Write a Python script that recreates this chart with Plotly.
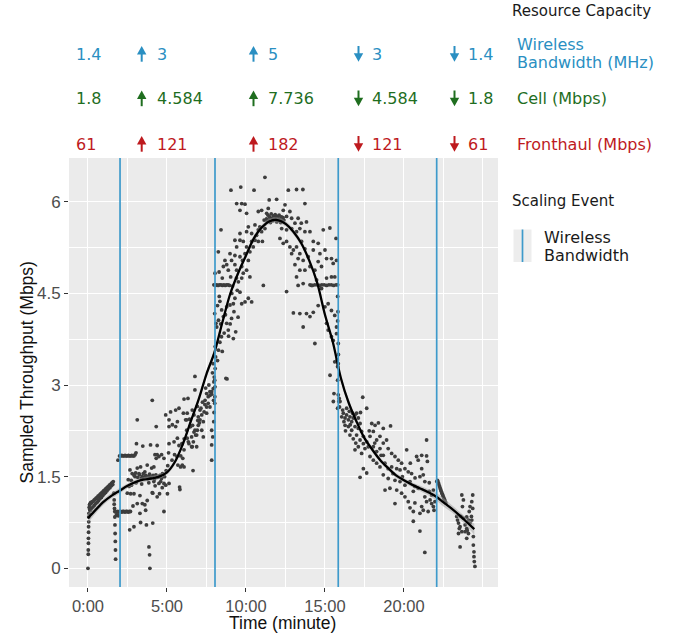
import plotly.graph_objects as go

# ------------------------------------------------------------------
# DATA
# time in minutes, throughput in Mbps
# ------------------------------------------------------------------
seg_start = [
    (0.00, 0.00), (0.02, 0.23), (0.02, 0.30), (0.03, 0.41), (0.03, 0.49), (0.04, 0.59),
    (0.04, 0.68), (0.05, 0.76), (0.05, 0.84), (0.06, 0.90), (0.08, 1.00), (0.12, 1.05),
    (0.18, 1.08), (0.10, 0.97), (0.15, 0.95),
    (0.10, 1.04), (0.16, 1.06), (0.22, 1.07), (0.28, 1.09), (0.34, 1.10), (0.40, 1.12),
    (0.46, 1.13), (0.52, 1.15), (0.58, 1.16), (0.64, 1.18), (0.70, 1.19), (0.76, 1.21),
    (0.82, 1.22), (0.88, 1.24), (0.94, 1.25), (1.00, 1.27), (1.06, 1.28), (1.12, 1.30),
    (1.18, 1.31), (1.24, 1.33), (1.30, 1.34), (1.36, 1.36), (1.42, 1.37), (1.48, 1.39),
    (1.54, 1.40), (1.60, 1.42),
    (0.13, 0.95), (0.22, 0.98), (0.31, 1.00), (0.40, 1.03), (0.49, 1.06), (0.58, 1.08),
    (0.67, 1.11), (0.76, 1.14), (0.85, 1.16), (0.94, 1.19), (1.03, 1.22), (1.12, 1.24),
    (1.21, 1.27), (1.30, 1.30), (1.39, 1.32), (1.48, 1.35), (1.57, 1.37),
    (1.64, 1.23), (1.66, 1.12), (1.66, 1.05), (1.68, 0.98), (1.70, 0.93), (1.70, 0.84),
    (1.71, 0.71), (1.72, 0.57), (1.73, 0.44), (1.74, 0.30), (1.75, 0.15),
]

seg_low_plateau = [
    (1.90, 1.77), (2.00, 1.84), (2.07, 1.84), (2.14, 1.85), (2.21, 1.84), (2.28, 1.84),
    (2.35, 1.85), (2.42, 1.84), (2.49, 1.84), (2.56, 1.85), (2.63, 1.84), (2.70, 1.84),
    (2.77, 1.85), (2.84, 1.84), (2.91, 1.84), (2.98, 1.86), (3.04, 1.89),
    (1.78, 0.92), (1.85, 0.93), (1.92, 0.92), (1.99, 0.93), (2.06, 0.93), (2.13, 0.92),
    (2.20, 0.93), (2.27, 0.93), (2.34, 0.92), (2.41, 0.93), (2.48, 0.93), (2.55, 0.92),
    (2.62, 0.93), (2.69, 0.93), (1.80, 0.87), (1.86, 0.87), (1.92, 0.86),
    (3.12, 2.43), (4.07, 2.75), (4.32, 2.32), (3.07, 2.04), (3.47, 2.00), (3.96, 2.02),
    (4.38, 2.01), (2.66, 1.61), (2.74, 1.44), (2.98, 1.50), (3.12, 1.64), (3.23, 1.55),
    (3.33, 1.66), (3.44, 1.50), (3.60, 1.58), (3.75, 1.69), (3.86, 1.50), (4.03, 1.64),
    (4.17, 1.66), (4.32, 1.80), (4.49, 1.83), (4.66, 1.86), (4.81, 1.80), (4.24, 1.86),
    (4.38, 1.86), (4.49, 1.39), (4.60, 1.42), (4.81, 1.39), (4.92, 1.36), (4.17, 1.42),
    (3.70, 1.50), (2.49, 1.23), (2.70, 1.22), (2.91, 1.22), (3.12, 1.06), (3.29, 1.19),
    (3.44, 1.06), (3.60, 1.04), (3.75, 1.11), (4.07, 1.24), (4.38, 1.17), (4.81, 0.93),
    (5.13, 1.39), (2.85, 1.02), (3.29, 0.90), (3.65, 0.95), (3.33, 0.75), (2.91, 0.68),
    (2.64, 0.63), (3.70, 0.71), (4.10, 0.74), (3.86, 0.35), (3.90, 0.22), (3.92, 0.00),
    (4.10, 1.23), (4.53, 1.22), (5.03, 1.22),
    (2.80, 1.55), (2.92, 1.52), (3.02, 1.56), (3.15, 1.49), (3.26, 1.53), (3.38, 1.47),
    (3.50, 1.55), (3.55, 1.48), (3.66, 1.52), (3.78, 1.47), (3.90, 1.54), (4.00, 1.49),
    (4.12, 1.52), (4.22, 1.46), (4.30, 1.53), (4.42, 1.49), (4.55, 1.52), (4.65, 1.47),
    (4.72, 1.55), (4.85, 1.50), (2.55, 1.45), (2.60, 1.34), (2.75, 1.36), (3.05, 1.40),
    (3.40, 1.38), (3.85, 1.40), (4.25, 1.35), (4.70, 1.32), (4.95, 1.60), (5.05, 1.68),
]

seg_rise = [
    (4.92, 2.51), (5.23, 2.56), (5.13, 2.32), (5.34, 2.35), (5.55, 2.32), (5.66, 2.13),
    (5.45, 2.07), (5.13, 2.04), (5.76, 2.01), (5.97, 2.04), (6.08, 1.94), (6.28, 2.13),
    (6.39, 2.04), (6.60, 1.99), (6.71, 2.23), (6.81, 2.18), (6.92, 2.26), (5.97, 1.69),
    (6.08, 1.66), (5.80, 1.33), (5.82, 1.29), (6.65, 1.60), (6.28, 2.54), (6.33, 2.78),
    (6.08, 2.77), (6.77, 3.14), (6.77, 2.92), (5.76, 2.62), (5.66, 2.40), (5.55, 2.59),
    (5.13, 2.43), (6.18, 2.43), (6.43, 2.44), (6.49, 2.32), (6.71, 2.51), (6.92, 2.65),
    (6.60, 2.59), (7.51, 2.86), (7.61, 2.81), (7.72, 2.83), (7.83, 2.89), (7.61, 2.70),
    (7.51, 2.64), (7.35, 2.56), (7.20, 2.51), (7.09, 2.43), (7.30, 2.40), (6.98, 2.34),
    (6.77, 2.26), (7.20, 2.26), (6.88, 2.18), (7.30, 2.15), (6.56, 2.15), (6.67, 2.07),
    (6.56, 1.99), (6.88, 1.99), (6.35, 2.07), (7.83, 2.26), (7.83, 2.02), (7.83, 1.77),
    (7.41, 2.75), (7.72, 2.64), (7.51, 2.54), (6.98, 2.48), (7.09, 2.59), (6.62, 2.34),
    (6.46, 2.32), (6.25, 2.26), (6.09, 2.12), (5.95, 2.04), (6.25, 2.43), (6.04, 2.54),
    (6.00, 1.80), (5.87, 1.84), (5.63, 1.83), (5.48, 1.86), (5.32, 1.77), (5.10, 1.89),
    (5.69, 1.69), (5.86, 1.66), (7.93, 2.94), (7.97, 3.05), (7.95, 2.75), (7.98, 2.55),
    (7.96, 2.40), (7.90, 2.15), (7.99, 3.13), (7.72, 2.89), (7.83, 2.85), (7.45, 2.95),
    (7.65, 3.00), (7.88, 3.20), (7.92, 3.35), (7.40, 2.68), (7.25, 2.72), (7.15, 2.62),
    (7.05, 2.38), (6.95, 2.42),
]

seg_peak_up = [
    (8.04, 4.83), (8.02, 4.17), (8.10, 4.01), (8.05, 3.63), (8.08, 3.46), (8.05, 3.27),
    (8.02, 3.08), (8.04, 2.97), (8.03, 2.81), (8.02, 2.70),
    (7.97, 4.64), (8.06, 4.63), (8.15, 4.64), (8.24, 4.63), (8.33, 4.64), (8.42, 4.64),
    (8.51, 4.63), (8.60, 4.64), (8.69, 4.63), (8.78, 4.64), (8.87, 4.64), (8.96, 4.63),
    (8.73, 3.11), (9.20, 3.76), (8.42, 5.54), (8.25, 5.18), (8.31, 4.45), (8.35, 4.37),
    (8.46, 4.23), (8.57, 4.12), (8.78, 4.01), (8.88, 3.90), (9.09, 4.09), (9.24, 4.20),
    (8.99, 4.31), (8.78, 4.28), (9.20, 4.33), (9.30, 4.42), (9.73, 4.33), (9.94, 4.36),
    (9.62, 4.52), (10.15, 4.42), (10.36, 4.36), (11.10, 4.63),
    (8.57, 4.94), (8.78, 4.97), (8.88, 4.88), (9.03, 4.77), (8.67, 5.04), (8.99, 5.15),
    (9.09, 5.04), (9.30, 4.97), (9.41, 4.88), (9.73, 4.94), (9.83, 4.83), (10.04, 4.88),
    (10.25, 4.77), (9.73, 4.75), (9.52, 4.69), (9.30, 5.12), (9.62, 5.10), (9.94, 5.15),
    (9.78, 5.04), (10.15, 5.04), (10.25, 5.18), (10.46, 5.26), (10.57, 5.37), (10.67, 5.45),
    (10.78, 5.54), (10.88, 5.59), (10.99, 5.51), (11.20, 5.56), (11.04, 5.35), (10.78, 5.35),
    (10.36, 5.35), (10.04, 5.26), (9.83, 5.35), (9.62, 5.37), (9.30, 5.37), (9.41, 5.26),
    (10.36, 5.48), (10.04, 5.51), (10.15, 5.59), (9.62, 5.48), (10.57, 5.62), (11.15, 5.70),
    (11.31, 5.81), (11.41, 5.89), (10.99, 5.86), (10.78, 5.84), (10.04, 5.81), (9.73, 5.97),
    (9.94, 5.96), (9.41, 5.97), (9.62, 5.86), (9.05, 6.19), (9.67, 6.24), (10.51, 6.19),
    (11.20, 6.40),
    (8.15, 3.95), (8.20, 3.40), (8.35, 3.70), (8.50, 3.55), (8.62, 3.85), (8.40, 4.00),
    (8.70, 4.15), (9.10, 4.50), (9.45, 4.55), (9.50, 4.11), (9.00, 4.00), (8.90, 3.80),
    (9.40, 4.75), (9.15, 4.62), (8.30, 4.85), (8.50, 4.75), (8.20, 4.30), (8.26, 4.06),
    (8.45, 3.79), (8.26, 3.57), (8.80, 3.10), (9.35, 3.87),
]

seg_peak_top = [
    (11.30, 5.72), (11.35, 5.68), (11.40, 5.78), (11.45, 5.70), (11.50, 5.75), (11.55, 5.66),
    (11.60, 5.80), (11.65, 5.73), (11.70, 5.69), (11.75, 5.77), (11.80, 5.71), (11.85, 5.79),
    (11.90, 5.74), (11.95, 5.67), (12.00, 5.76), (12.05, 5.70), (12.10, 5.78), (12.15, 5.72),
    (12.20, 5.66), (12.25, 5.75), (12.30, 5.69), (12.35, 5.74), (12.40, 5.70),
    (12.68, 6.19), (13.20, 6.20), (13.60, 6.20), (13.73, 5.97), (11.94, 6.04), (11.47, 6.03),
]

seg_peak_down = [
    (12.47, 5.95), (12.78, 5.84), (12.36, 5.86), (12.57, 5.76), (12.89, 5.73), (13.10, 5.65),
    (13.30, 5.73), (13.50, 5.65), (13.83, 5.67), (13.41, 5.56), (13.73, 5.51), (12.26, 5.56),
    (12.57, 5.54), (12.89, 5.56), (13.20, 5.51), (12.15, 5.40), (12.36, 5.32), (12.57, 5.35),
    (12.78, 5.26), (13.00, 5.21), (12.89, 5.15), (13.20, 5.26), (13.41, 5.15), (13.52, 5.35),
    (13.73, 5.23), (14.05, 5.51), (14.26, 5.35), (14.57, 5.32), (14.89, 5.54), (15.31, 5.57),
    (15.70, 5.40), (14.26, 5.21), (13.94, 5.10), (13.62, 5.04), (13.30, 5.07), (13.10, 4.97),
    (13.41, 4.88), (13.20, 4.77), (13.73, 4.88), (14.05, 4.94), (14.36, 4.88), (14.57, 5.02),
    (14.78, 4.94), (15.10, 5.07), (15.41, 5.07), (15.52, 4.99), (15.73, 5.04), (14.68, 5.15),
    (15.00, 5.21), (14.47, 4.72), (14.78, 4.58), (15.10, 4.75), (15.41, 4.77), (15.62, 4.77),
    (14.15, 4.63), (13.62, 4.66), (13.30, 4.63), (12.57, 4.53), (13.00, 4.18), (13.41, 4.17),
    (13.83, 4.17), (14.26, 4.19), (14.57, 4.30), (15.00, 4.28), (15.20, 4.33), (15.41, 4.22),
    (15.62, 4.14), (15.73, 3.95), (15.73, 3.84), (15.84, 3.68), (15.10, 4.01), (15.20, 3.90),
    (15.41, 3.79), (15.52, 3.73), (14.36, 3.68), (13.62, 3.95), (14.05, 4.12), (15.62, 3.38),
    (15.84, 3.35), (15.80, 4.45), (15.82, 4.20), (15.80, 4.05), (15.85, 3.50),
    (14.05, 4.64), (14.20, 4.63), (14.35, 4.64), (14.50, 4.64), (14.65, 4.63), (14.80, 4.64),
    (14.95, 4.64), (15.10, 4.63), (15.25, 4.64), (15.40, 4.64), (15.55, 4.63), (15.70, 4.64),
    (15.80, 4.64),
]

seg_fall = [
    (15.78, 3.41), (15.80, 3.30), (15.80, 3.08), (15.84, 2.84), (15.88, 2.73), (15.80, 2.62),
    (15.90, 2.78), (15.95, 2.73), (15.92, 2.64), (15.53, 2.73), (15.32, 3.16), (15.57, 2.86),
    (16.16, 2.54), (16.27, 2.46), (16.37, 2.51), (16.48, 2.43), (16.58, 2.48), (16.69, 2.40),
    (16.79, 2.46), (16.90, 2.51), (17.00, 2.54), (17.11, 2.46), (16.27, 2.34), (16.48, 2.32),
    (16.69, 2.26), (16.90, 2.32), (17.11, 2.29), (17.32, 2.24), (16.58, 2.18), (16.79, 2.12),
    (17.00, 2.18), (17.22, 2.10), (17.43, 2.16), (17.43, 2.04), (17.64, 2.07), (17.53, 1.96),
    (17.74, 1.99), (16.90, 1.94), (17.11, 1.99), (17.32, 1.88), (16.12, 2.59), (16.37, 2.62),
    (16.20, 2.40), (16.06, 2.48), (16.54, 2.57), (16.75, 2.54), (17.22, 2.37), (17.39, 2.80),
    (17.64, 2.62), (17.96, 2.37), (18.17, 2.34), (18.38, 2.38), (18.69, 2.29), (19.15, 2.33),
    (17.85, 2.16), (18.06, 2.24), (18.27, 2.10), (18.48, 2.16), (18.69, 2.05), (18.90, 2.10),
    (18.06, 1.99), (18.27, 1.91), (18.48, 1.96), (18.69, 1.85), (19.00, 1.96), (19.22, 1.88),
    (19.43, 1.83), (19.64, 1.77), (19.85, 1.72), (17.85, 1.83), (18.06, 1.77), (18.27, 1.72),
    (18.48, 1.66), (18.79, 1.72), (19.00, 1.63), (19.22, 1.66), (19.54, 1.63), (19.75, 1.61),
    (20.06, 1.63), (20.27, 1.58), (20.48, 1.55), (20.80, 1.83), (20.90, 1.77), (21.12, 1.85),
    (21.43, 1.84), (21.48, 1.75), (21.43, 2.10), (20.17, 1.94), (21.12, 1.63), (21.22, 1.53),
    (21.32, 1.42), (21.01, 1.50), (17.43, 1.63), (17.22, 1.49), (17.64, 1.56), (18.69, 1.53),
    (18.80, 1.28), (19.00, 1.47), (19.43, 1.44), (19.75, 1.42), (20.06, 1.36), (20.38, 1.42),
    (20.69, 1.34), (20.59, 1.26), (20.90, 1.31), (19.43, 1.06), (19.85, 1.23), (20.06, 1.17),
    (20.27, 1.09), (20.38, 0.99), (20.59, 0.93), (20.69, 1.07), (21.01, 0.90), (21.12, 1.01),
    (21.22, 0.95), (20.59, 0.77), (21.01, 0.61), (21.32, 0.26), (21.43, 1.09), (21.53, 0.93),
    (21.65, 1.12), (21.75, 1.06), (21.86, 1.01), (21.90, 0.95), (21.96, 1.09), (21.75, 1.20),
    (21.60, 1.26), (21.86, 1.28), (21.32, 1.17), (19.54, 1.28), (19.11, 1.31),
    (16.30, 2.25), (16.60, 2.35), (16.95, 2.05), (17.25, 2.55), (17.80, 2.25), (18.15, 2.05),
    (18.55, 1.85), (19.30, 1.55), (19.90, 1.50), (20.40, 1.72), (20.70, 1.48), (21.60, 1.40),
]

seg_tail = [
    (22.08, 1.42), (22.12, 1.44), (22.16, 1.41), (22.20, 1.38), (22.24, 1.35), (22.28, 1.32),
    (22.32, 1.29), (22.36, 1.26), (22.40, 1.23), (22.44, 1.21), (22.48, 1.18), (22.52, 1.15),
    (22.56, 1.13), (22.60, 1.10), (22.65, 1.07),
    (23.66, 1.20), (23.76, 1.12), (23.70, 1.01), (23.34, 0.85), (23.45, 0.74), (23.55, 0.68),
    (23.66, 0.60), (23.87, 0.60), (23.97, 0.65), (24.08, 0.57), (24.18, 0.74), (24.29, 0.79),
    (24.35, 0.98), (24.29, 1.09), (24.35, 1.20), (24.18, 1.01), (23.97, 0.84), (23.55, 0.35),
    (23.97, 0.49), (24.39, 0.38), (24.43, 0.27), (24.43, 0.19), (24.45, 0.11), (24.49, 0.03),
    (24.39, 0.52), (24.08, 0.79), (23.76, 0.82), (23.45, 0.57), (23.39, 0.79), (23.60, 0.85),
    (23.87, 0.71), (24.13, 0.93), (24.27, 0.85), (23.50, 0.65), (24.00, 0.62),
]

# loess-style trend, with its band half-width
smooth_t = [0, 0.5, 1, 1.5, 2, 2.5, 3, 3.5, 4, 4.5, 5, 5.5, 6, 6.5, 7, 7.5, 8, 8.5, 9, 9.5,
            10, 10.5, 11, 11.5, 12, 12.5, 13, 13.5, 14, 14.5, 15, 15.5, 16, 16.5, 17, 17.5,
            18, 18.5, 19, 19.5, 20, 20.5, 21, 21.5, 22, 22.5, 23, 23.5, 24, 24.45]
smooth_y = [0.82, 0.96, 1.09, 1.19, 1.27, 1.35, 1.41, 1.45, 1.47, 1.50, 1.57, 1.74, 2.03,
            2.40, 2.76, 3.18, 3.53, 4.02, 4.49, 4.83, 5.12, 5.40, 5.58, 5.68, 5.70, 5.64,
            5.51, 5.32, 5.04, 4.68, 4.15, 3.70, 3.12, 2.71, 2.40, 2.13, 1.94, 1.77, 1.64,
            1.52, 1.44, 1.37, 1.31, 1.25, 1.18, 1.08, 0.98, 0.87, 0.75, 0.64]
smooth_se = [0.08, 0.06, 0.05, 0.045, 0.045, 0.04, 0.04, 0.04, 0.04, 0.04, 0.04, 0.045,
             0.045, 0.05, 0.05, 0.05, 0.05, 0.05, 0.05, 0.05, 0.05, 0.05, 0.045, 0.045,
             0.045, 0.045, 0.045, 0.05, 0.05, 0.05, 0.05, 0.05, 0.05, 0.05, 0.045, 0.045,
             0.04, 0.04, 0.04, 0.04, 0.04, 0.04, 0.045, 0.05, 0.06, 0.07, 0.06, 0.06,
             0.07, 0.09]

event_times = [2.03, 8.04, 15.84, 22.07]          # wireless bandwidth scaling events
bandwidth_mhz = ["1.4", "3", "5", "3", "1.4"]
cell_mbps = ["1.8", "4.584", "7.736", "4.584", "1.8"]
fronthaul_mbps = ["61", "121", "182", "121", "61"]
change_dir = ["", "up", "up", "down", "down"]
row_labels = [["Wireless", "Bandwidth (MHz)"], ["Cell (Mbps)"], ["Fronthaul (Mbps)"]]

x_tick_vals = [0, 5, 10, 15, 20]
x_tick_text = ["0:00", "5:00", "10:00", "15:00", "20:00"]
y_tick_vals = [0, 1.5, 3, 4.5, 6]
y_tick_text = ["0", "1.5", "3", "4.5", "6"]

# ------------------------------------------------------------------
# LAYOUT CONSTANTS (page body margin is removed, figure fills window)
# ------------------------------------------------------------------
W, H = 685, 637
ML, MR, MT, MB = 69, 187, 158, 50
PW, PH = W - ML - MR, H - MT - MB

BLUE, GREEN, RED = "#2A8FC2", "#1F6E1F", "#BE1A1E"
VLINE = "#3E9ACB"
TXT_FONT = "DejaVu Sans"
AX_FONT = "Liberation Sans"


def px2x(px):
    return (px - ML) / PW


def py2y(py):
    return (H - MB - py) / PH


all_pts = seg_start + seg_low_plateau + seg_rise + seg_peak_up + seg_peak_top + seg_peak_down + seg_fall + seg_tail
pt_t = [p[0] for p in all_pts]
pt_y = [p[1] for p in all_pts]

fig = go.Figure()

fig.add_trace(go.Scatter(
    x=pt_t, y=pt_y, mode="markers",
    marker=dict(size=3.8, color="#3d3d3d", line=dict(width=0)),
    hoverinfo="skip", showlegend=False))

upper = [a + b for a, b in zip(smooth_y, smooth_se)]
lower = [a - b for a, b in zip(smooth_y, smooth_se)]
fig.add_trace(go.Scatter(x=smooth_t, y=upper, mode="lines", line=dict(width=0, shape="spline"),
                         hoverinfo="skip", showlegend=False))
fig.add_trace(go.Scatter(x=smooth_t, y=lower, mode="lines", line=dict(width=0, shape="spline"),
                         fill="tonexty", fillcolor="rgba(153,153,153,0.45)",
                         hoverinfo="skip", showlegend=False))
fig.add_trace(go.Scatter(x=smooth_t, y=smooth_y, mode="lines",
                         line=dict(color="black", width=2.3, shape="spline", smoothing=0.9),
                         hoverinfo="skip", showlegend=False))

for t in event_times:
    fig.add_shape(type="line", xref="x", yref="paper", x0=t, x1=t, y0=0, y1=1,
                  line=dict(color=VLINE, width=1.7), layer="above")

# ---------------- top resource annotations ----------------
annotations = []
shapes = []
row_centers = [54, 98.5, 144]
row_colors = [BLUE, GREEN, RED]
row_values = [bandwidth_mhz, cell_mbps, fronthaul_mbps]
text_left = [76, 157, 268, 372, 468]
arrow_cx = [None, 141.7, 253.5, 358.5, 454.5]

for yc, col, vals in zip(row_centers, row_colors, row_values):
    for i, v in enumerate(vals):
        annotations.append(dict(
            x=px2x(text_left[i] - 2), y=py2y(yc), xref="paper", yref="paper",
            text=v, showarrow=False, xanchor="left", yanchor="middle",
            font=dict(family=TXT_FONT, size=16, color=col)))
        d = change_dir[i]
        if d:
            cx = arrow_cx[i]
            top, bot = yc - 8, yc + 7.7
            hw, hh = 4.7, 8.5
            if d == "up":
                tri = [(cx, top), (cx - hw, top + hh), (cx + hw, top + hh)]
                s0, s1 = top + hh - 1, bot
            else:
                tri = [(cx, bot), (cx - hw, bot - hh), (cx + hw, bot - hh)]
                s0, s1 = top, bot - hh + 1
            path = "M {:.5f},{:.5f} L {:.5f},{:.5f} L {:.5f},{:.5f} Z".format(
                px2x(tri[0][0]), py2y(tri[0][1]), px2x(tri[1][0]), py2y(tri[1][1]),
                px2x(tri[2][0]), py2y(tri[2][1]))
            shapes.append(dict(type="path", xref="paper", yref="paper", path=path,
                               fillcolor=col, line=dict(width=0)))
            shapes.append(dict(type="line", xref="paper", yref="paper",
                               x0=px2x(cx), x1=px2x(cx), y0=py2y(s0), y1=py2y(s1),
                               line=dict(color=col, width=2)))

# right-hand legend texts
annotations.append(dict(x=px2x(510), y=py2y(11), xref="paper", yref="paper", text="Resource Capacity",
                        showarrow=False, xanchor="left", yanchor="middle",
                        font=dict(family=TXT_FONT, size=15, color="#1a1a1a")))
label_rows = [[44.5, 62.5], [98.5], [144]]
for lines, ys, col in zip(row_labels, label_rows, row_colors):
    for txt, yy in zip(lines, ys):
        annotations.append(dict(x=px2x(515), y=py2y(yy), xref="paper", yref="paper", text=txt,
                                showarrow=False, xanchor="left", yanchor="middle",
                                font=dict(family=TXT_FONT, size=16, color=col)))

annotations.append(dict(x=px2x(510), y=py2y(200.5), xref="paper", yref="paper", text="Scaling Event",
                        showarrow=False, xanchor="left", yanchor="middle",
                        font=dict(family=TXT_FONT, size=15, color="#1a1a1a")))
shapes.append(dict(type="rect", xref="paper", yref="paper", x0=px2x(513.5), x1=px2x(531.5),
                   y0=py2y(262), y1=py2y(229.5), fillcolor="#EDEDED", line=dict(width=0)))
shapes.append(dict(type="line", xref="paper", yref="paper", x0=px2x(522.5), x1=px2x(522.5),
                   y0=py2y(262), y1=py2y(229.5), line=dict(color=VLINE, width=1.7)))
for txt, yy in zip(["Wireless", "Bandwidth"], [237.5, 255]):
    annotations.append(dict(x=px2x(542), y=py2y(yy), xref="paper", yref="paper", text=txt,
                            showarrow=False, xanchor="left", yanchor="middle",
                            font=dict(family=TXT_FONT, size=16, color="#1a1a1a")))

# axis titles
annotations.append(dict(x=px2x(282), y=py2y(623), xref="paper", yref="paper", text="Time (minute)",
                        showarrow=False, xanchor="center", yanchor="middle",
                        font=dict(family=AX_FONT, size=17.5, color="#111111")))
annotations.append(dict(x=px2x(26.5), y=py2y(373), xref="paper", yref="paper",
                        text="Sampled Throughput (Mbps)", textangle=-90,
                        showarrow=False, xanchor="center", yanchor="middle",
                        font=dict(family=AX_FONT, size=17.5, color="#111111")))

fig.update_layout(
    width=W, height=H,
    margin=dict(l=ML, r=MR, t=MT, b=MB, pad=0),
    paper_bgcolor="white", plot_bgcolor="#EBEBEB",
    showlegend=False,
    annotations=annotations, shapes=fig.layout.shapes + tuple(shapes),
    xaxis=dict(range=[-1.2, 25.95], tickmode="array", tickvals=x_tick_vals, ticktext=x_tick_text,
               showgrid=True, gridcolor="white", gridwidth=1.4, zeroline=False, showline=False,
               ticks="outside", ticklen=4, tickwidth=1, tickcolor="#333333",
               tickfont=dict(family=AX_FONT, size=16.5, color="#4D4D4D"),
               minor=dict(tickmode="array", tickvals=[2.5, 7.5, 12.5, 17.5, 22.5, 25],
                          showgrid=True, gridcolor="white", gridwidth=0.7, ticks="")),
    yaxis=dict(range=[-0.306, 6.716], tickmode="array", tickvals=y_tick_vals, ticktext=y_tick_text,
               showgrid=True, gridcolor="white", gridwidth=1.4, zeroline=False, showline=False,
               ticks="outside", ticklen=4, tickwidth=1, tickcolor="#333333",
               tickfont=dict(family=AX_FONT, size=17, color="#4D4D4D"),
               minor=dict(tickmode="array", tickvals=[0.75, 2.25, 3.75, 5.25],
                          showgrid=True, gridcolor="white", gridwidth=0.7, ticks="")),
)

fig.write_html("out.html", config={"displayModeBar": False},
               post_script="document.body.style.margin='0px';")
